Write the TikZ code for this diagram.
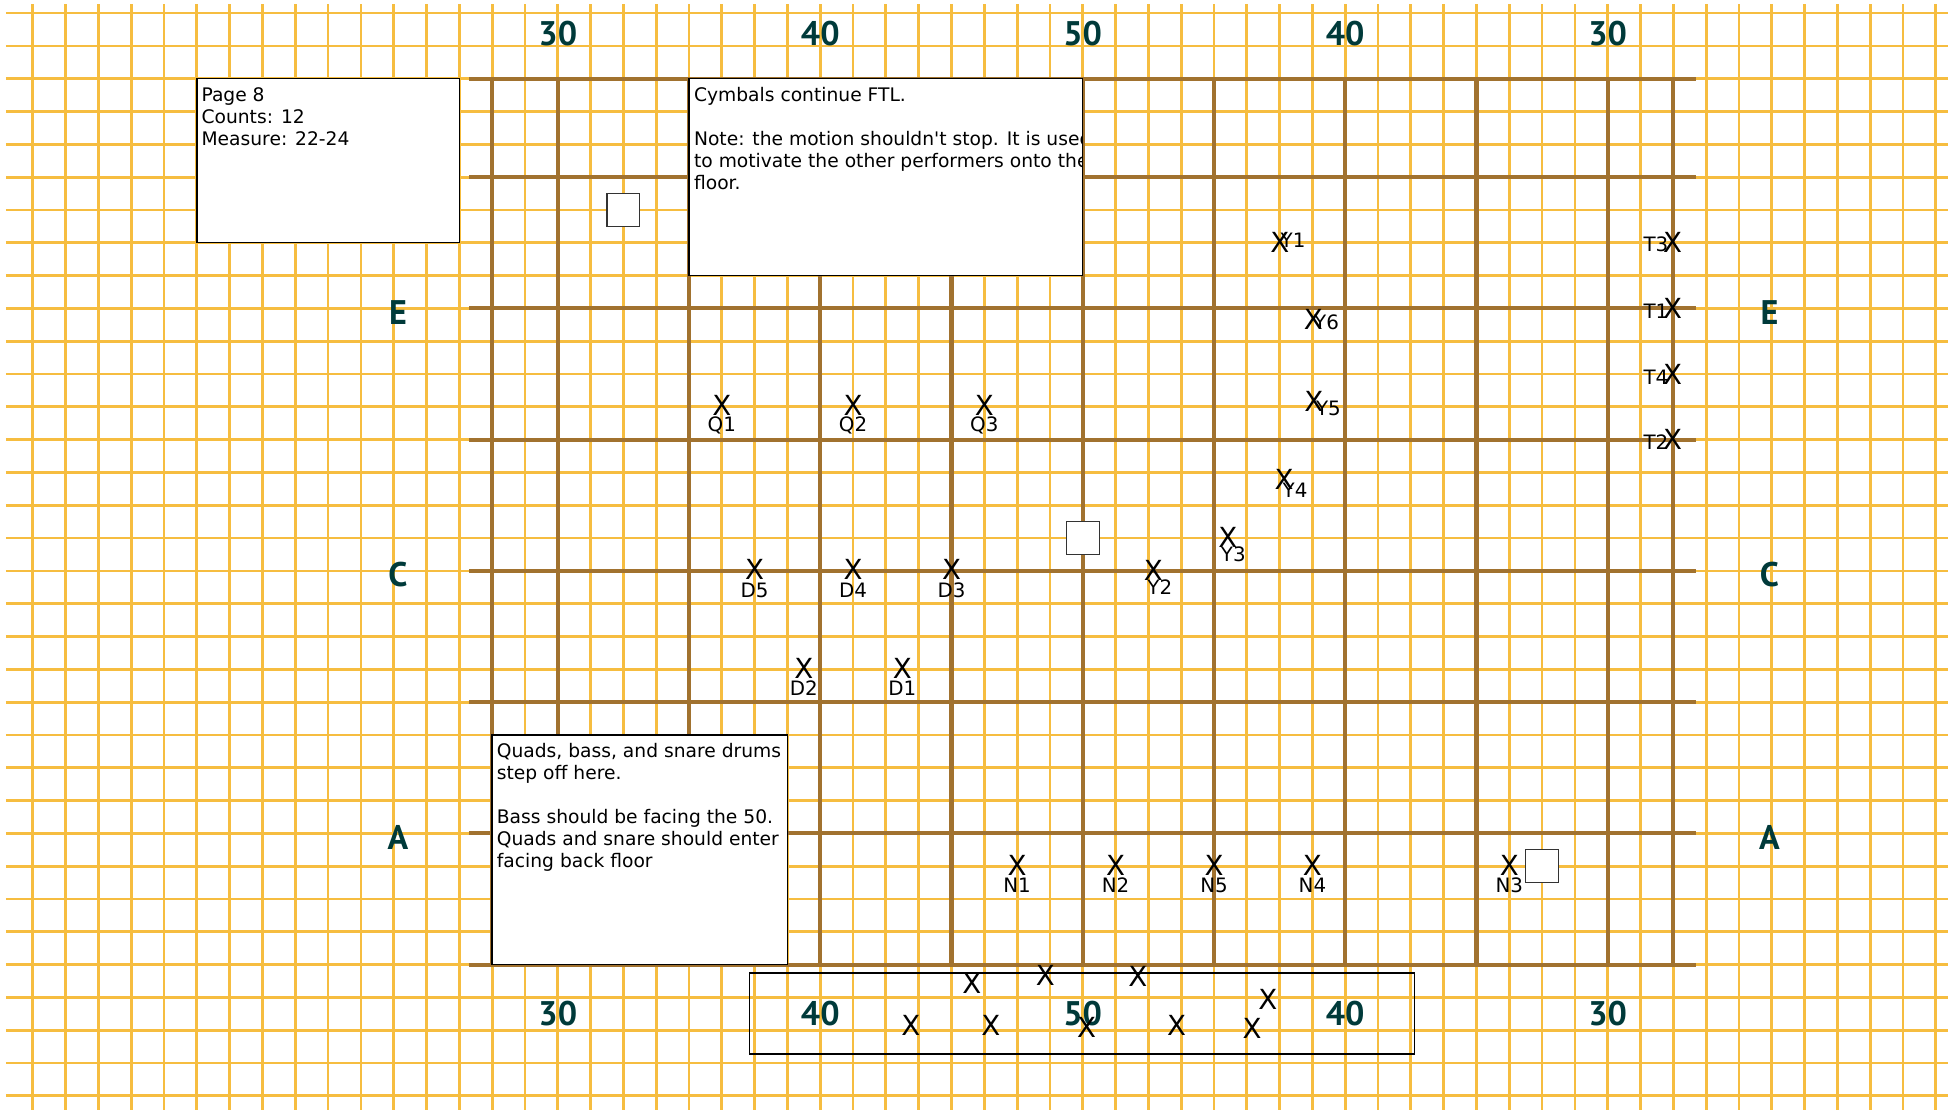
\documentclass[tikz,border=0pt]{standalone}
\usepackage{fontspec}
\setmainfont{DejaVu Sans}
\newfontfamily\yardfont{PT Sans}
\usepackage{tikz}
\usetikzlibrary{positioning}
\definecolor{gridyellow}{RGB}{246,189,64}
\definecolor{fieldbrown}{RGB}{161,114,47}
\definecolor{yardteal}{RGB}{0,58,58}

\begin{document}
\begin{tikzpicture}[x=0.5cm,y=0.5cm,
    gridline/.style={gridyellow,line width=1.2pt},
    fieldline/.style={fieldbrown,line width=1.8pt},
    notebox/.style={draw=black,line width=0.6pt,fill=white},
    notetext/.style={anchor=north west,inner sep=0pt,align=left,
      font=\fontsize{8.1}{9.54}\selectfont},
    yardnum/.style={yardteal,inner sep=0pt,
      font=\yardfont\bfseries\fontsize{14.8}{15}\selectfont},
    setmark/.style={draw=black!80,line width=0.5pt,fill=white},
    marcher/.style={inner sep=0pt,font=\fontsize{12}{12}\selectfont},
    tag/.style={inner sep=0pt,font=\fontsize{8.6}{9}\selectfont}]
  \useasboundingbox (0,-0.401) rectangle (59.616,33.4);
  \foreach \gx in {1,...,59} {
    \draw[gridline] (\gx,-0.45) -- (\gx,33.28);
  }
  \foreach \gy in {0,...,33} {
    \draw[gridline] (0.18,\gy) -- (59.37,\gy);
  }
  \foreach \fy in {4,8,12,16,20,24,28,31} {
    \draw[fieldline] (14.3,\fy) -- (51.7,\fy);
  }
  \foreach \fx in {15,17,21,25,29,33,37,41,45,49,51} {
    \draw[fieldline] (\fx,4) -- (\fx,31);
  }
  \draw[black,line width=0.6pt] (22.84,1.28) rectangle (43.12,3.75);
  \foreach \yx/\yl [count=\i] in {17/30,25/40,33/50,41/40,49/30} {
    \node[yardnum] (top\i) at (\yx,32.37) {\yl};
    \node[yardnum] (bot\i) at (\yx,2.5) {\yl};
  }
  \foreach \sl/\sy in {E/23.88,C/15.88,A/7.88} {
    \node[yardnum] (west\sl) at (12.13,\sy) {\sl};
    \node[yardnum] (east\sl) at (53.93,\sy) {\sl};
  }
  \draw[notebox] (6,26) rectangle (14,31);
  \node[notetext] (pagenote) at (6.13,30.75)
    {Page 8\\Counts: 12\\Measure: 22-24};
  \draw[notebox] (21,25) rectangle (33,31);
  \begin{scope}
    \clip (21,25) rectangle (33,31);
    \node[notetext] (cymbalnote) at (21.14,30.75)
      {Cymbals continue FTL.\\[9.54pt]
       Note: the motion shouldn\textquotesingle t stop. It is used\\
       to motivate the other performers onto the\\
       floor.};
  \end{scope}
  \draw[notebox] (15,4) rectangle (24,11);
  \node[notetext] (drumnote) at (15.13,10.75)
    {Quads, bass, and snare drums\\step off here.\\[9.54pt]
     Bass should be facing the 50.\\Quads and snare should enter\\
     facing back floor};
  \draw[setmark] (18.5,26.5) rectangle (19.5,27.5);
  \draw[setmark] (32.5,16.5) rectangle (33.5,17.5);
  \draw[setmark] (46.5,6.5) rectangle (47.5,7.5);
  \foreach \who/\px/\py/\dx/\dy in {
      Q1/22/21.05/0/-0.61, Q2/26/21.05/0/-0.61, Q3/30/21.05/0/-0.61,
      D5/23/16.03/0/-0.61, D4/26/16.03/0/-0.61, D3/29/16.03/0/-0.61,
      D2/24.5/13.03/0/-0.61, D1/27.5/13.03/0/-0.61,
      N1/31/7.02/0/-0.6, N2/34/7.02/0/-0.6, N5/37/7.02/0/-0.6,
      N4/40/7.02/0/-0.6, N3/46/7.02/0/-0.6,
      Y1/39.01/26.0/0.4/0.09, Y6/40.03/23.67/0.4/-0.09,
      Y5/40.04/21.18/0.45/-0.22, Y4/39.14/18.79/0.33/-0.34,
      Y3/37.42/17.02/0.17/-0.51, Y2/35.15/16.01/0.2/-0.51,
      T3/50.98/26.0/-0.51/-0.06, T1/50.98/24.0/-0.51/-0.08,
      T4/50.98/22.0/-0.51/-0.1, T2/50.98/20.02/-0.51/-0.1} {
    \node[marcher] (\who) at (\px,\py) {X};
    \node[tag] (\who-tag) at (\px+\dx,\py+\dy) {\who};
  }
  \foreach \bx/\by [count=\k] in {29.62/3.43, 31.86/3.67, 34.68/3.63,
      38.64/2.93, 27.76/2.14, 30.2/2.14, 33.12/2.08, 35.86/2.14, 38.16/2.05} {
    \node[marcher] (entry\k) at (\bx,\by) {X};
  }
\end{tikzpicture}
\end{document}
